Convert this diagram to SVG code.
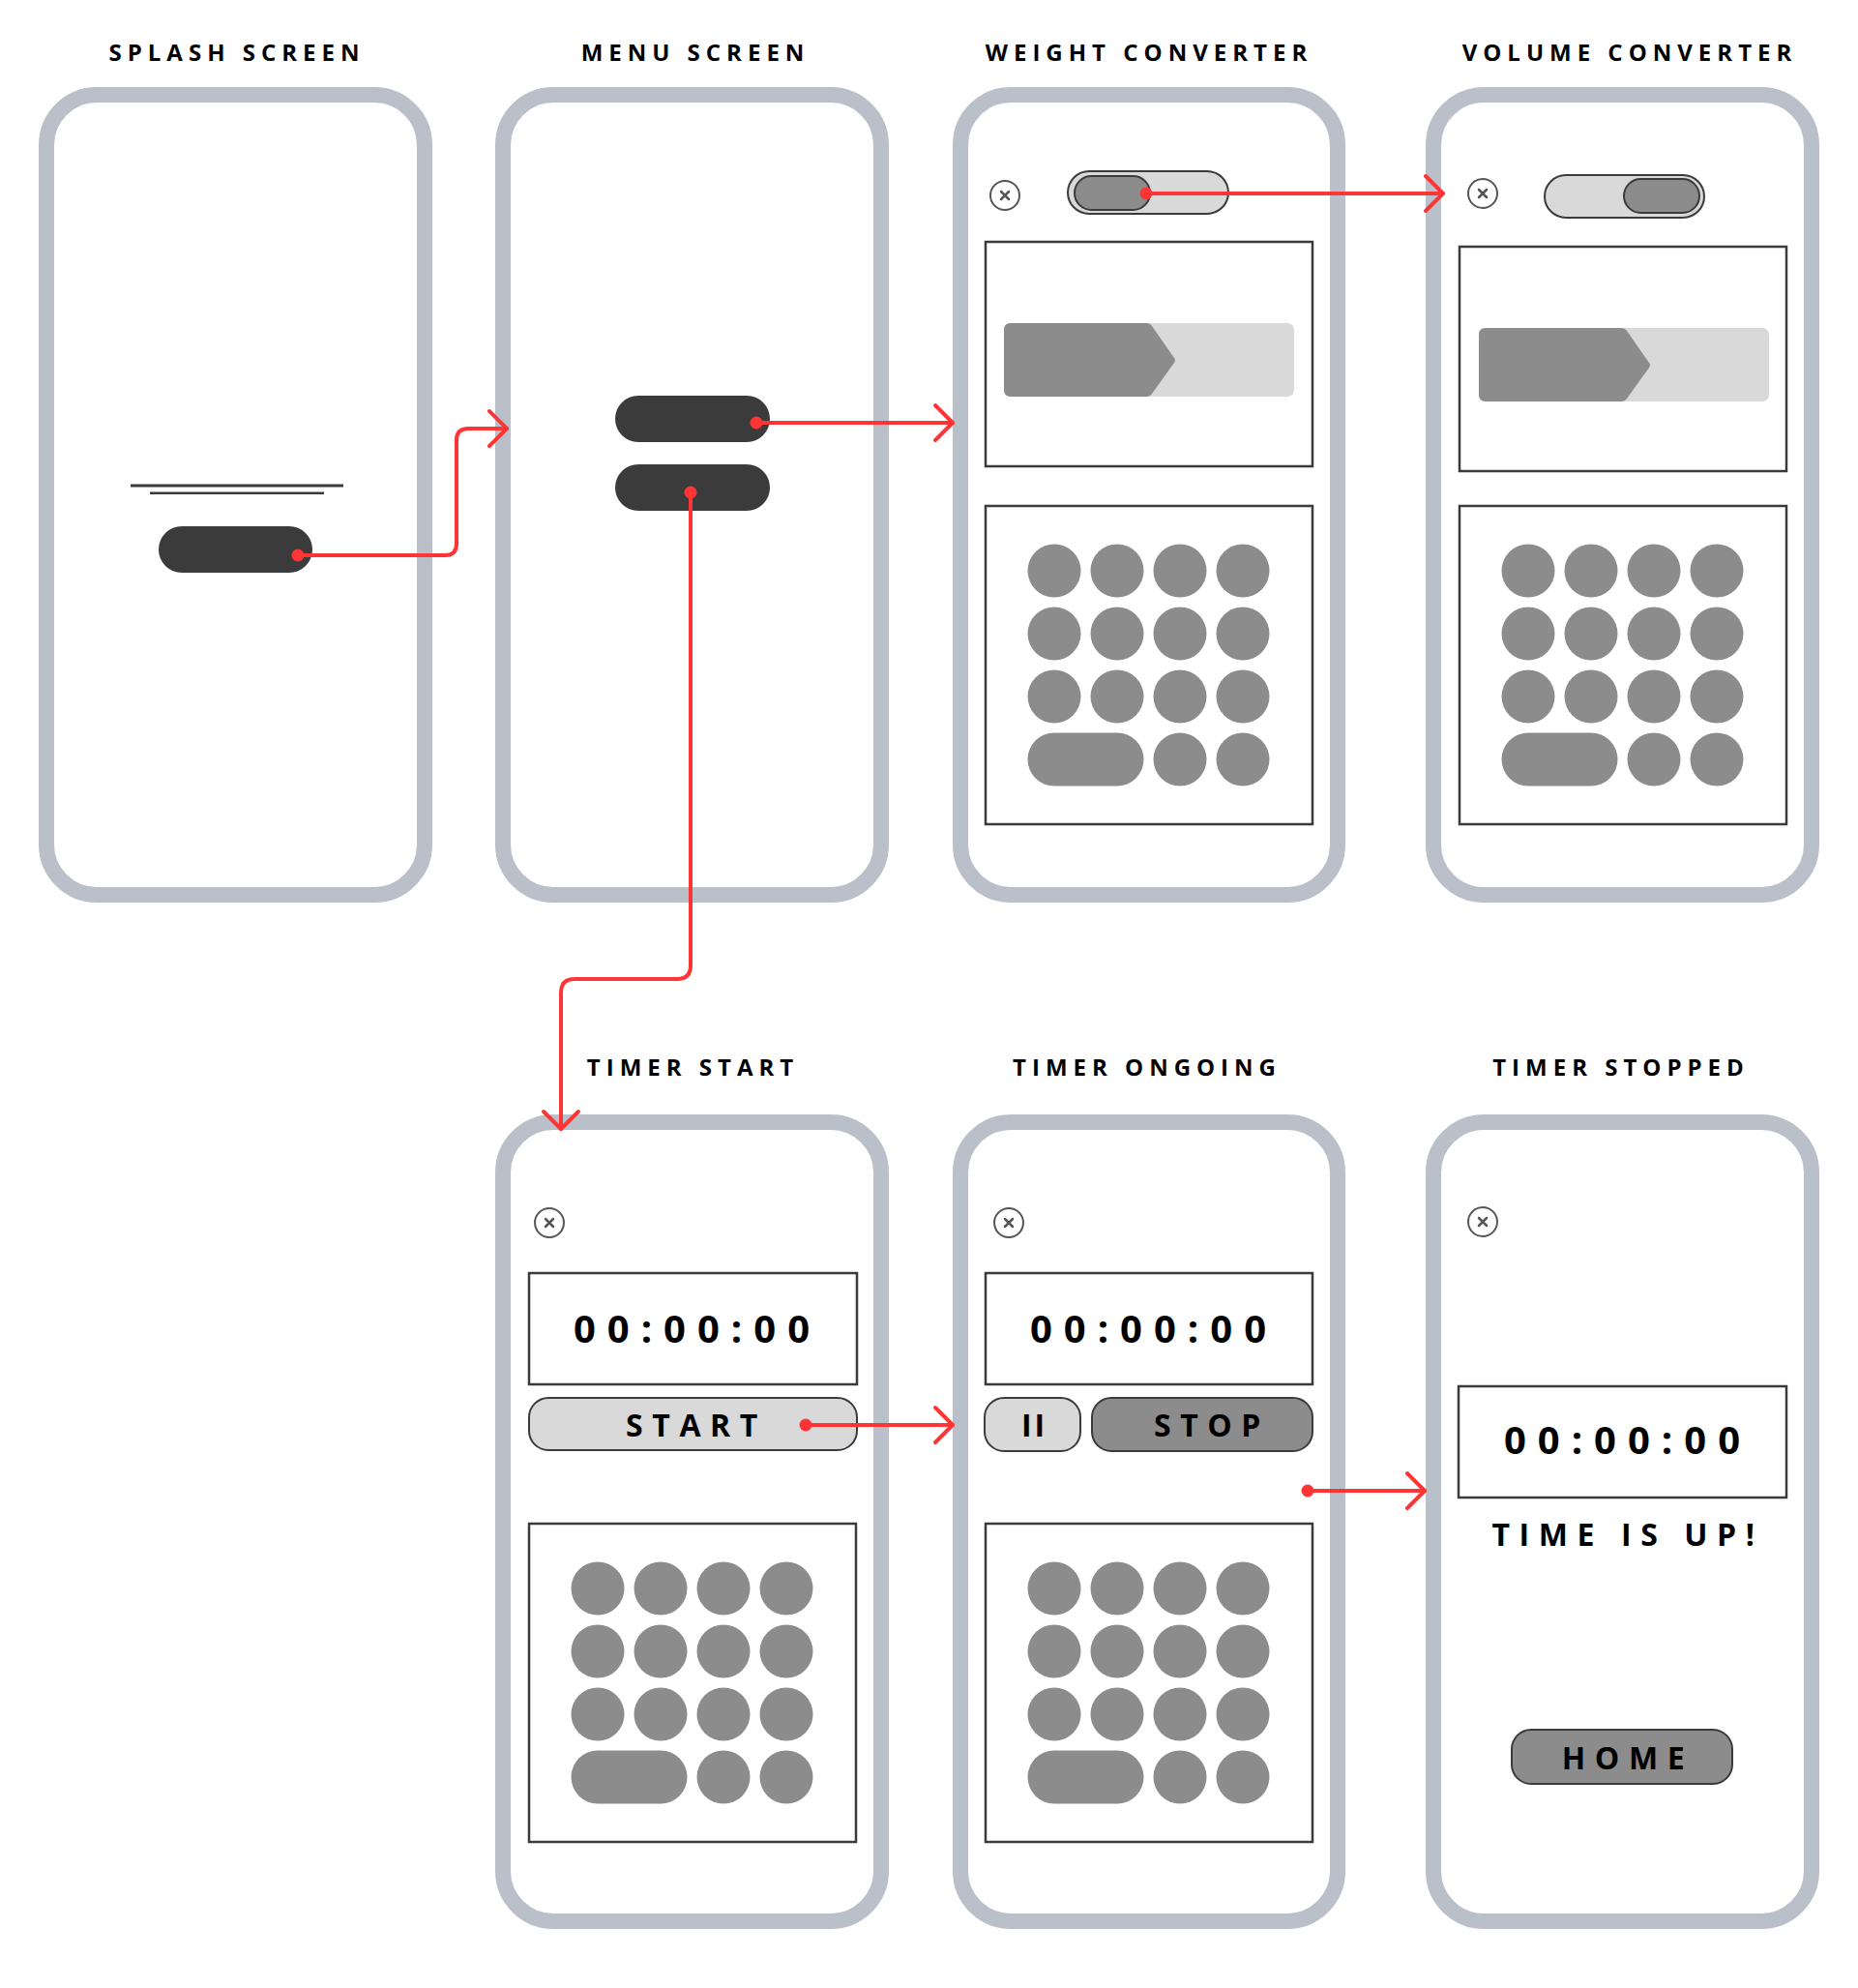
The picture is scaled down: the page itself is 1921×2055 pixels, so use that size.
<svg xmlns="http://www.w3.org/2000/svg" width="1921" height="2055" viewBox="0 0 1921 2055">
<defs>
<style>
.phone{fill:#fff;stroke:#b9c0ca;stroke-width:16}
.title{font-family:"Open Sans","Liberation Sans",sans-serif;font-weight:700;font-size:24px;letter-spacing:6px;fill:#000;text-anchor:middle}
.big{font-family:"Open Sans","Liberation Sans",sans-serif;font-weight:700;font-size:40px;letter-spacing:12px;fill:#000;text-anchor:middle}
.btxt{font-family:"Open Sans","Liberation Sans",sans-serif;font-weight:700;font-size:32px;letter-spacing:9.6px;fill:#000;text-anchor:middle}
.box{fill:#fff;stroke:#3b3b3b;stroke-width:2.5}
.dark{fill:#3b3b3b}
.key{fill:#8c8c8c}
.light{fill:#d9d9d9}
.btnL{fill:#d9d9d9;stroke:#3b3b3b;stroke-width:2}
.btnD{fill:#8c8c8c;stroke:#3b3b3b;stroke-width:2}
.close{fill:#fff;stroke:#555;stroke-width:2}
.closex{stroke:#555;stroke-width:2.5;stroke-linecap:round}
.conn{fill:none;stroke:#ff3535;stroke-width:4;stroke-linejoin:round;stroke-linecap:round}
.dot{fill:#ff3535}
</style>
<g id="closeIcon">
<circle cx="0" cy="0" r="15" class="close"/>
<path d="M-4,-4 L4,4 M4,-4 L-4,4" class="closex"/>
</g>
<g id="keypad">
<rect x="0" y="0" width="338" height="329" class="box"/>
<g class="key">
<circle cx="71" cy="67" r="27.5"/><circle cx="136" cy="67" r="27.5"/><circle cx="201" cy="67" r="27.5"/><circle cx="266" cy="67" r="27.5"/>
<circle cx="71" cy="132" r="27.5"/><circle cx="136" cy="132" r="27.5"/><circle cx="201" cy="132" r="27.5"/><circle cx="266" cy="132" r="27.5"/>
<circle cx="71" cy="197" r="27.5"/><circle cx="136" cy="197" r="27.5"/><circle cx="201" cy="197" r="27.5"/><circle cx="266" cy="197" r="27.5"/>
<rect x="43.5" y="234.5" width="120" height="55" rx="27.5"/><circle cx="201" cy="262" r="27.5"/><circle cx="266" cy="262" r="27.5"/>
</g>
</g>
<g id="slider">
<rect x="0" y="0" width="300" height="76" rx="7" class="light"/>
<path d="M7,0 L147,0 Q151,0 153,3 L176,36 Q178,38 176,41 L153,73 Q151,76 147,76 L7,76 Q0,76 0,69 L0,7 Q0,0 7,0 Z" class="key"/>
</g>
</defs>
<rect width="1921" height="2055" fill="#fff"/>

<g id="splash">
<text x="245" y="63" class="title">SPLASH SCREEN</text>
<rect x="48" y="98" width="391" height="827" rx="52" class="phone"/>
<rect x="135" y="500.5" width="220" height="3" class="dark"/>
<rect x="155" y="508.5" width="180" height="2.5" class="dark"/>
<rect x="164" y="544" width="159" height="48" rx="24" class="dark"/>
</g>

<g id="menu">
<text x="719" y="63" class="title">MENU SCREEN</text>
<rect x="520" y="98" width="391" height="827" rx="52" class="phone"/>
<rect x="636" y="409" width="160" height="48" rx="24" class="dark"/>
<rect x="636" y="480" width="160" height="48" rx="24" class="dark"/>
</g>

<g id="weight">
<text x="1188" y="63" class="title">WEIGHT CONVERTER</text>
<rect x="993" y="98" width="390" height="827" rx="52" class="phone"/>
<use href="#closeIcon" x="1039" y="202"/>
<rect x="1104" y="177" width="166" height="44" rx="22" class="btnL"/>
<rect x="1111" y="182" width="78" height="35" rx="17.5" class="btnD"/>
<rect x="1019" y="250" width="338" height="232" class="box"/>
<use href="#slider" x="1038" y="334"/>
<use href="#keypad" x="1019" y="523"/>
</g>

<g id="volume">
<text x="1685" y="63" class="title">VOLUME CONVERTER</text>
<rect x="1482" y="98" width="391" height="827" rx="52" class="phone"/>
<use href="#closeIcon" x="1533" y="200"/>
<rect x="1597" y="181" width="165" height="44" rx="22" class="btnL"/>
<rect x="1679" y="185" width="78" height="35" rx="17.5" class="btnD"/>
<rect x="1509" y="255" width="338" height="232" class="box"/>
<use href="#slider" x="1529" y="339"/>
<use href="#keypad" x="1509" y="523"/>
</g>

<g id="timer-start">
<text x="716.5" y="1112" class="title">TIMER START</text>
<rect x="520" y="1160" width="391" height="826" rx="52" class="phone"/>
<use href="#closeIcon" x="568" y="1264"/>
<rect x="547" y="1316" width="339" height="115" class="box"/>
<text x="721" y="1388" class="big">00:00:00</text>
<rect x="547" y="1445" width="339" height="54" rx="20" class="btnL"/>
<text x="720" y="1485" class="btxt">START</text>
<use href="#keypad" x="547" y="1575"/>
</g>

<g id="timer-ongoing">
<text x="1186" y="1112" class="title">TIMER ONGOING</text>
<rect x="993" y="1160" width="390" height="826" rx="52" class="phone"/>
<use href="#closeIcon" x="1043" y="1264"/>
<rect x="1019" y="1316" width="338" height="115" class="box"/>
<text x="1193" y="1388" class="big">00:00:00</text>
<rect x="1018" y="1445" width="99" height="55" rx="20" class="btnL"/>
<text x="1069.5" y="1485" class="btxt" style="letter-spacing:3px">II</text>
<rect x="1129" y="1445" width="228" height="55" rx="20" class="btnD"/>
<text x="1253" y="1485" class="btxt">STOP</text>
<use href="#keypad" x="1019" y="1575"/>
</g>

<g id="timer-stopped">
<text x="1676" y="1112" class="title">TIMER STOPPED</text>
<rect x="1482" y="1160" width="391" height="826" rx="52" class="phone"/>
<use href="#closeIcon" x="1533" y="1263"/>
<rect x="1508" y="1433" width="339" height="115" class="box"/>
<text x="1683" y="1503" class="big">00:00:00</text>
<text x="1683" y="1598" class="btxt">TIME IS UP!</text>
<rect x="1563" y="1788" width="228" height="56" rx="20" class="btnD"/>
<text x="1683" y="1829" class="btxt">HOME</text>
</g>

<g id="connectors">
<path d="M308,574 L460,574 Q472,574 472,562 L472,455 Q472,443 484,443 L524,443" class="conn"/>
<path d="M506,425 L524,443 L506,461" class="conn"/>
<circle cx="308" cy="574" r="6.5" class="dot"/>

<path d="M782,437 L985,437" class="conn"/>
<path d="M967,419 L985,437 L967,455" class="conn"/>
<circle cx="782" cy="437" r="6.5" class="dot"/>

<path d="M714,509 L714,998 Q714,1012 700,1012 L594,1012 Q580,1012 580,1026 L580,1167" class="conn"/>
<path d="M562,1149 L580,1167 L598,1149" class="conn"/>
<circle cx="714" cy="509" r="6.5" class="dot"/>

<path d="M1185,200 L1492,200" class="conn"/>
<path d="M1474,182 L1492,200 L1474,218" class="conn"/>
<circle cx="1185" cy="200" r="6.5" class="dot"/>

<path d="M833,1473 L985,1473" class="conn"/>
<path d="M967,1455 L985,1473 L967,1491" class="conn"/>
<circle cx="833" cy="1473" r="6.5" class="dot"/>

<path d="M1352,1541 L1473,1541" class="conn"/>
<path d="M1455,1523 L1473,1541 L1455,1559" class="conn"/>
<circle cx="1352" cy="1541" r="6.5" class="dot"/>
</g>
</svg>
